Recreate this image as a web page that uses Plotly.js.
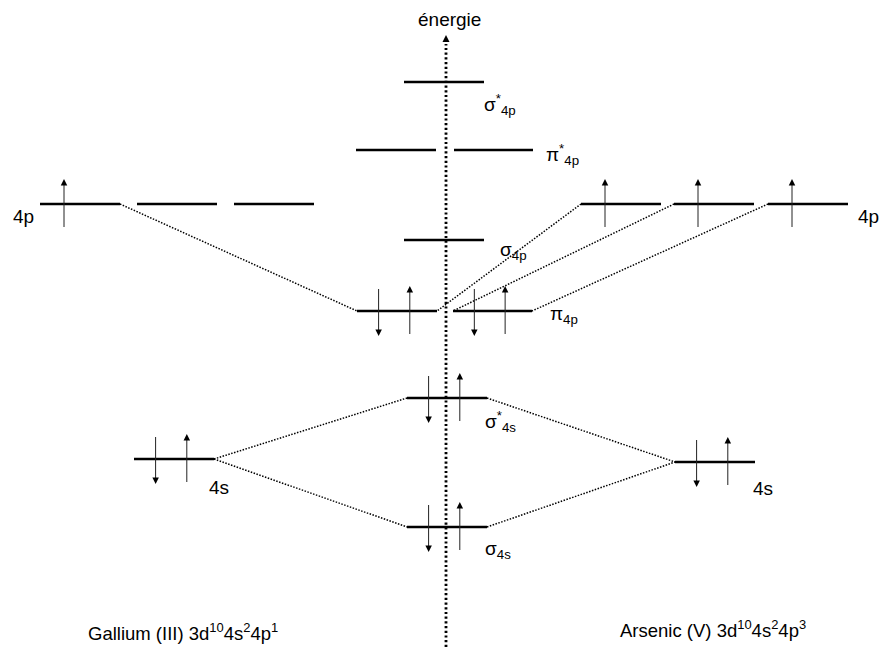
<!DOCTYPE html>
<html>
<head>
<meta charset="utf-8">
<script src="https://cdn.plot.ly/plotly-3.0.1.min.js"></script>
<style>html,body{margin:0;padding:0;background:#fff;}#chart{width:880px;height:648px;}</style>
</head>
<body>
<div id="chart"></div>
<script>
// ---- data: orbital levels (energy on a screen-like scale, 0 = top) ----
const orbitalName   = ['Ga 4p','Ga 4p','Ga 4p','As 4p','As 4p','As 4p','σ*4p','π*4p','π*4p','σ4p','π4p','π4p','σ*4s','σ4s','Ga 4s','As 4s'];
const orbitalEnergy = [204, 204, 204, 204, 204, 204, 82, 150, 150, 240, 311, 311, 398, 527, 459, 462];
const orbitalStart  = [40, 137, 234, 581, 674, 768, 404, 356, 454, 404, 357, 453, 407, 407, 134, 675];
const orbitalEnd    = [120, 217, 314, 661, 754, 848, 484, 436, 533, 484, 437, 532, 487, 487, 214, 755];
const orbitalSpins  = ['u', '', '', 'u', 'u', 'u', '', '', '', '', 'du', 'du', 'du', 'du', 'du', 'du'];

// correlation lines: [from orbital, which end] -> [to orbital, which end]
const connFrom    = [0, 3, 4, 5, 14, 14, 12, 13];
const connFromEnd = ['end', 'start', 'start', 'start', 'end', 'end', 'end', 'end'];
const connTo      = [10, 10, 11, 11, 12, 13, 15, 15];
const connToEnd   = ['start', 'end', 'start', 'end', 'start', 'start', 'start', 'start'];

// texts
const moLabels   = ['σ<sup>*</sup><sub>4p</sub>', 'π<sup>*</sup><sub>4p</sub>', 'σ<sub>4p</sub>', 'π<sub>4p</sub>', 'σ<sup>*</sup><sub>4s</sub>', 'σ<sub>4s</sub>'];
const moLabelOf  = [6, 8, 9, 11, 12, 13];
const axisTitle  = 'énergie';
const atomLabels = ['Gallium (III) 3d<sup>10</sup>4s<sup>2</sup>4p<sup>1</sup>', 'Arsenic (V) 3d<sup>10</sup>4s<sup>2</sup>4p<sup>3</sup>'];

// ---- build traces ----
const FONT = 'Liberation Sans, Arial, sans-serif';
const endX = (i, e) => e === 'start' ? orbitalStart[i] : orbitalEnd[i];

const lvX = [], lvY = [];
orbitalEnergy.forEach((y, i) => { lvX.push(orbitalStart[i], orbitalEnd[i], null); lvY.push(y, y, null); });

const cX = [], cY = [];
connFrom.forEach((f, k) => {
  const t = connTo[k];
  cX.push(endX(f, connFromEnd[k]), endX(t, connToEnd[k]), null);
  cY.push(orbitalEnergy[f], orbitalEnergy[t], null);
});

const eX = [], eY = [], hX = [], hY = [], hS = [];
orbitalSpins.forEach((s, i) => {
  const w = orbitalEnd[i] - orbitalStart[i], y = orbitalEnergy[i];
  if (s === 'u') {
    const x = orbitalStart[i] + 0.3 * w;
    eX.push(x, x, null); eY.push(y + 23, y - 19, null);
    hX.push(x); hY.push(y - 25); hS.push('arrow-up');
  } else if (s === 'du') {
    const xd = orbitalStart[i] + 0.27 * w, xu = orbitalStart[i] + 0.66 * w;
    eX.push(xd, xd, null); eY.push(y - 22, y + 19, null);
    hX.push(xd); hY.push(y + 25); hS.push('arrow-down');
    eX.push(xu, xu, null); eY.push(y + 23, y - 19, null);
    hX.push(xu); hY.push(y - 25); hS.push('arrow-up');
  }
});

const AXX = 446;
const traces = [
  {x: [AXX, AXX], y: [647, 44], mode: 'lines', line: {color: '#000', width: 2.8, dash: '2.2px,2.5px'}, hoverinfo: 'skip'},
  {x: [AXX], y: [35], mode: 'markers', marker: {symbol: 'arrow-up', size: 7, color: '#000', line: {width: 0}}, hoverinfo: 'skip'},
  {x: cX, y: cY, mode: 'lines', line: {color: '#000', width: 1.5, dash: '1.5px,1.5px'}, hoverinfo: 'skip'},
  {x: lvX, y: lvY, mode: 'lines', line: {color: '#000', width: 2.6}, hoverinfo: 'skip'},
  {x: eX, y: eY, mode: 'lines', line: {color: '#222', width: 1}, hoverinfo: 'skip'},
  {x: hX, y: hY, mode: 'markers', marker: {symbol: hS, size: 6.5, color: '#000', line: {width: 0}}, hoverinfo: 'skip'}
];

const ann = [];
const txt = (text, x, y, xa, size, extra) => Object.assign({text, x, y, xref: 'x', yref: 'y', xanchor: xa, yanchor: 'middle', showarrow: false, font: {family: FONT, size: size, color: '#000'}}, extra || {});

ann.push(txt(axisTitle, AXX + 3, 19, 'center', 19));
ann.push(txt('4p', orbitalStart[0] - 4, orbitalEnergy[0] + 12, 'right', 19));
ann.push(txt('4p', orbitalEnd[5] + 8, orbitalEnergy[5] + 12, 'left', 19));
ann.push(txt('4s', orbitalEnd[14] - 7, orbitalEnergy[14] + 28, 'left', 19));
ann.push(txt('4s', orbitalEnd[15] - 4, orbitalEnergy[15] + 26, 'left', 19));

const moDX = [-2, 11, 14, 16, -4, -4];
const moDY = [22, 4, 11, 4, 23, 23];
moLabels.forEach((t, k) => {
  const i = moLabelOf[k];
  ann.push(txt(t, orbitalEnd[i] + moDX[k], orbitalEnergy[i] + moDY[k], 'left', 19));
});

ann.push(txt(atomLabels[0], 183, 632, 'center', 18.5));
ann.push(txt(atomLabels[1], 713, 629, 'center', 18.5));

const layout = {
  width: 880, height: 648,
  margin: {l: 0, r: 0, t: 0, b: 0, pad: 0},
  paper_bgcolor: '#fff', plot_bgcolor: '#fff',
  showlegend: false,
  xaxis: {range: [0, 880], visible: false, fixedrange: true},
  yaxis: {range: [648, 0], visible: false, fixedrange: true},
  annotations: ann
};

Plotly.newPlot('chart', traces, layout, {staticPlot: true, displayModeBar: false});
</script>
</body>
</html>
